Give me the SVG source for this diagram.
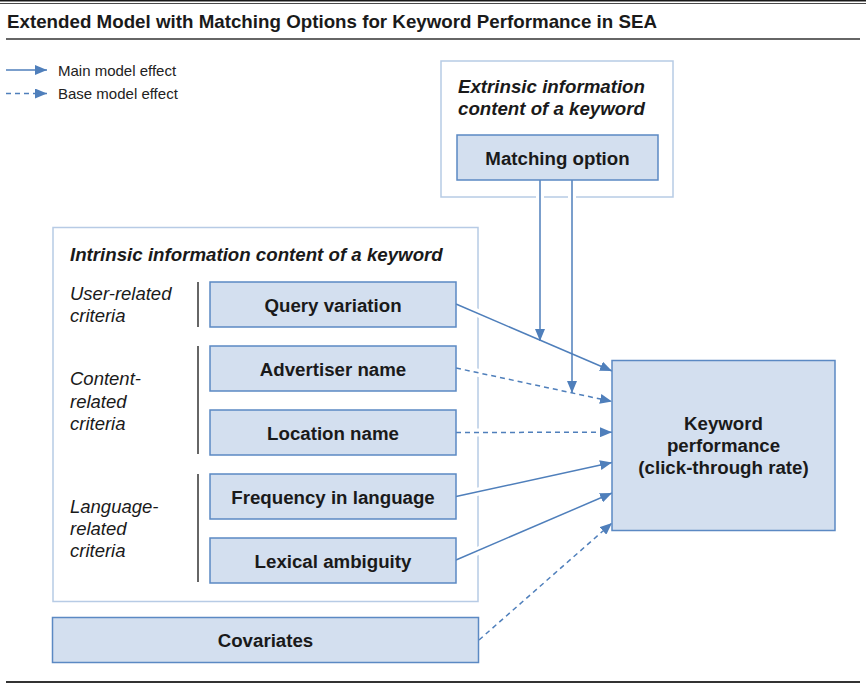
<svg xmlns="http://www.w3.org/2000/svg" width="866" height="684" viewBox="0 0 866 684">
  <style>
    .title { font-family: "Liberation Sans", Arial, sans-serif; font-weight: bold; font-size: 18.6px; fill: #1a1a1a; }
    .legend { font-family: "Liberation Sans", Arial, sans-serif; font-size: 15px; fill: #222; }
    .head { font-family: "Liberation Sans", Arial, sans-serif; font-weight: bold; font-style: italic; font-size: 18.7px; fill: #1a1a1a; }
    .crit { font-family: "Liberation Sans", Arial, sans-serif; font-style: italic; font-size: 18.5px; fill: #1a1a1a; }
    .lbl { font-family: "Liberation Sans", Arial, sans-serif; font-weight: bold; font-size: 18.7px; fill: #1a1a1a; text-anchor: middle; }
    .box { fill: #d3dfef; stroke: #5b89c3; stroke-width: 1.5; }
    .frame { fill: none; stroke: #b7cbe5; stroke-width: 1.5; }
    .bar { stroke: #333; stroke-width: 1.5; }
    .halo { fill: none; stroke: #fff; stroke-width: 8; }
    .edge { fill: none; stroke: #4f7fbb; stroke-width: 1.5; marker-end: url(#arrow); }
    .dash { stroke-dasharray: 5 4; }
  </style>
  <defs>
    <marker id="arrow" markerUnits="userSpaceOnUse" markerWidth="12" markerHeight="10" refX="12" refY="5" orient="auto">
      <path d="M0,0 L12,5 L0,10 z" fill="#4f7fbb"/>
    </marker>
  </defs>

  <rect width="866" height="684" fill="#fff"/>

  <!-- header rules and title -->
  <line x1="0" y1="0.8" x2="866" y2="0.8" stroke="#1a1a1a" stroke-width="1.6"/>
  <line x1="0" y1="3.5" x2="866" y2="3.5" stroke="#1a1a1a" stroke-width="0.8"/>
  <text class="title" x="7" y="28" textLength="650" lengthAdjust="spacingAndGlyphs">Extended Model with Matching Options for Keyword Performance in SEA</text>
  <line x1="6" y1="39" x2="860" y2="39" stroke="#666" stroke-width="2"/>
  <line x1="6" y1="682" x2="860" y2="682" stroke="#333" stroke-width="2"/>

  <!-- legend -->
  <g id="legend">
    <line class="edge" x1="6" y1="70" x2="47" y2="70"/>
    <text class="legend" x="58" y="75.5">Main model effect</text>
    <line class="edge dash" x1="6" y1="93.5" x2="47" y2="93.5"/>
    <text class="legend" x="58" y="99">Base model effect</text>
  </g>

  <!-- extrinsic frame -->
  <g id="extrinsic">
    <rect class="frame" x="441" y="61" width="232" height="136"/>
    <text class="head" x="458" y="92.5">Extrinsic information</text>
    <text class="head" x="458" y="115">content of a keyword</text>
  </g>

  <!-- intrinsic frame -->
  <g id="intrinsic">
    <rect class="frame" x="53" y="227.5" width="425" height="374"/>
    <text class="head" x="70" y="261">Intrinsic information content of a keyword</text>
    <text class="crit" x="70" y="300">User-related</text>
    <text class="crit" x="70" y="322">criteria</text>
    <text class="crit" x="70" y="385">Content-</text>
    <text class="crit" x="70" y="408">related</text>
    <text class="crit" x="70" y="430">criteria</text>
    <text class="crit" x="70" y="513">Language-</text>
    <text class="crit" x="70" y="535">related</text>
    <text class="crit" x="70" y="557">criteria</text>
    <line class="bar" x1="198" y1="282" x2="198" y2="327"/>
    <line class="bar" x1="198" y1="346" x2="198" y2="454"/>
    <line class="bar" x1="198" y1="474" x2="198" y2="582"/>
  </g>

  <!-- connectors: white halos first, then strokes -->
  <g id="connectors">
    <g class="halo">
      <line x1="540" y1="183" x2="540" y2="330"/>
      <line x1="572" y1="183" x2="572" y2="382"/>
      <line x1="458" y1="304.5" x2="600" y2="365.5"/>
      <line x1="458" y1="368.5" x2="600" y2="399"/>
      <line x1="458" y1="432.5" x2="600" y2="432.2"/>
      <line x1="458" y1="496" x2="600" y2="465"/>
      <line x1="458" y1="559.5" x2="600" y2="498.5"/>
      <line x1="481" y1="639" x2="600" y2="531"/>
    </g>
    <line id="e-match-1" class="edge" x1="540" y1="180" x2="540" y2="341"/>
    <line id="e-match-2" class="edge" x1="572" y1="180" x2="572" y2="393"/>
    <line id="e-query" class="edge" x1="456" y1="304" x2="612" y2="371"/>
    <line id="e-adv" class="edge dash" x1="456" y1="368" x2="612" y2="401.5"/>
    <line id="e-loc" class="edge dash" x1="456" y1="432.5" x2="612" y2="432.2"/>
    <line id="e-freq" class="edge" x1="456" y1="496.5" x2="612" y2="462.5"/>
    <line id="e-lex" class="edge" x1="456" y1="560" x2="612" y2="493"/>
    <line id="e-cov" class="edge dash" x1="479" y1="640" x2="612" y2="523"/>
  </g>

  <!-- nodes -->
  <g id="matching">
    <rect class="box" x="457" y="135" width="201" height="45"/>
    <text class="lbl" x="557.5" y="164.5">Matching option</text>
  </g>
  <g id="query">
    <rect class="box" x="210" y="282" width="246" height="45"/>
    <text class="lbl" x="333" y="311.5">Query variation</text>
  </g>
  <g id="advertiser">
    <rect class="box" x="210" y="346" width="246" height="45"/>
    <text class="lbl" x="333" y="375.5">Advertiser name</text>
  </g>
  <g id="location">
    <rect class="box" x="210" y="410" width="246" height="45"/>
    <text class="lbl" x="333" y="439.5">Location name</text>
  </g>
  <g id="frequency">
    <rect class="box" x="210" y="474" width="246" height="45"/>
    <text class="lbl" x="333" y="503.5">Frequency in language</text>
  </g>
  <g id="lexical">
    <rect class="box" x="210" y="538" width="246" height="45"/>
    <text class="lbl" x="333" y="567.5">Lexical ambiguity</text>
  </g>
  <g id="covariates">
    <rect class="box" x="52.5" y="617.5" width="426" height="45"/>
    <text class="lbl" x="265.5" y="646.5">Covariates</text>
  </g>
  <g id="performance">
    <rect class="box" x="612" y="360.5" width="223" height="170"/>
    <text class="lbl" x="723.5" y="430">Keyword</text>
    <text class="lbl" x="723.5" y="452">performance</text>
    <text class="lbl" x="723.5" y="474">(click-through rate)</text>
  </g>
</svg>
